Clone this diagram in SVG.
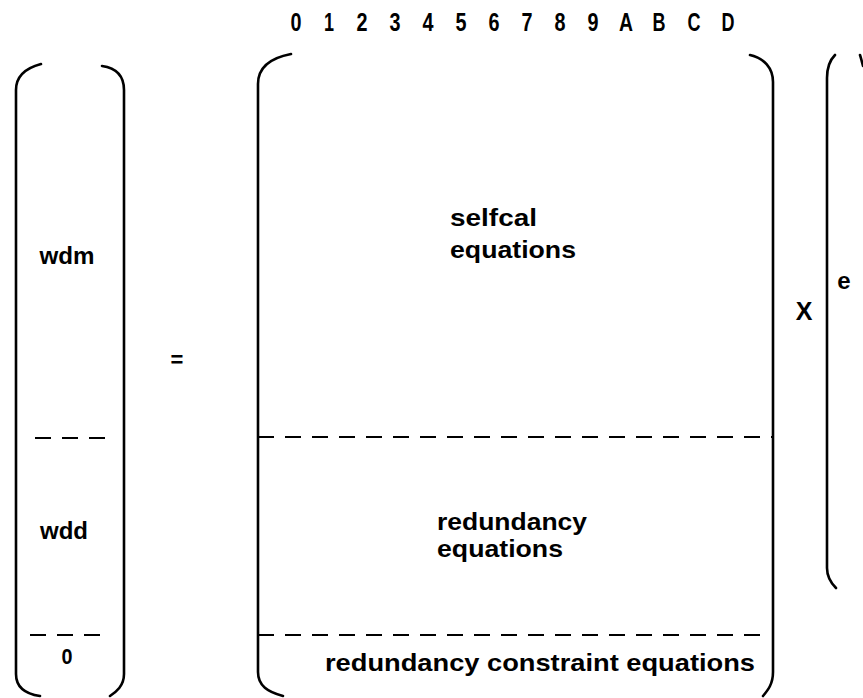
<svg xmlns="http://www.w3.org/2000/svg" width="863" height="698" viewBox="0 0 863 698">
<style>
.br{fill:none;stroke:#000;stroke-width:2.6;stroke-linecap:round}
.da{fill:none;stroke:#000;stroke-width:2;stroke-dasharray:16 11}
text{font-family:"Liberation Sans",Arial,sans-serif;font-weight:bold;fill:#000}
.t{font-size:24px}
.h{font-size:25px}
</style>
<rect width="863" height="698" fill="#fff"/>
<g id="header">
<text class="h" x="296" y="31" text-anchor="middle" textLength="11" lengthAdjust="spacingAndGlyphs">0</text>
<text class="h" x="329" y="31" text-anchor="middle" textLength="10" lengthAdjust="spacingAndGlyphs">1</text>
<text class="h" x="362" y="31" text-anchor="middle" textLength="11" lengthAdjust="spacingAndGlyphs">2</text>
<text class="h" x="395" y="31" text-anchor="middle" textLength="11" lengthAdjust="spacingAndGlyphs">3</text>
<text class="h" x="428" y="31" text-anchor="middle" textLength="11" lengthAdjust="spacingAndGlyphs">4</text>
<text class="h" x="461" y="31" text-anchor="middle" textLength="11" lengthAdjust="spacingAndGlyphs">5</text>
<text class="h" x="494" y="31" text-anchor="middle" textLength="11" lengthAdjust="spacingAndGlyphs">6</text>
<text class="h" x="527" y="31" text-anchor="middle" textLength="11" lengthAdjust="spacingAndGlyphs">7</text>
<text class="h" x="560" y="31" text-anchor="middle" textLength="11" lengthAdjust="spacingAndGlyphs">8</text>
<text class="h" x="593" y="31" text-anchor="middle" textLength="11" lengthAdjust="spacingAndGlyphs">9</text>
<text class="h" x="626" y="31" text-anchor="middle" textLength="14" lengthAdjust="spacingAndGlyphs">A</text>
<text class="h" x="659" y="31" text-anchor="middle" textLength="13" lengthAdjust="spacingAndGlyphs">B</text>
<text class="h" x="694" y="31" text-anchor="middle" textLength="13" lengthAdjust="spacingAndGlyphs">C</text>
<text class="h" x="728" y="31" text-anchor="middle" textLength="13" lengthAdjust="spacingAndGlyphs">D</text>
</g>
<g id="lhs-vector">
<path class="br" d="M41,64 C26,68 16,76 16,90 L16,674 C16,688 26,694 40,696"/>
<path class="br" d="M102,66 C116,68 124,76 124,90 L124,674 C124,686 116,692 110,696"/>
<line class="da" x1="35" y1="438" x2="106" y2="438"/>
<line class="da" x1="30" y1="635" x2="106" y2="635"/>
<text class="t" x="67" y="264" text-anchor="middle" textLength="55" lengthAdjust="spacingAndGlyphs">wdm</text>
<text class="t" x="64" y="539" text-anchor="middle" textLength="48" lengthAdjust="spacingAndGlyphs">wdd</text>
<text x="67" y="664" font-size="22" text-anchor="middle" textLength="11" lengthAdjust="spacingAndGlyphs">0</text>
</g>
<g id="equals">
<text x="177" y="367" font-size="22" text-anchor="middle">=</text>
</g>
<g id="matrix">
<path class="br" d="M291,54 C270,58 258,68 258,84 L258,672 C258,686 268,692 283,696"/>
<path class="br" d="M750,55 C764,58 773,68 773,82 L773,672 C773,684 768,690 763,696"/>
<line class="da" x1="258" y1="437" x2="772" y2="437"/>
<line class="da" x1="258" y1="635" x2="760" y2="635"/>
<text class="t" x="450" y="226" textLength="87" lengthAdjust="spacingAndGlyphs">selfcal</text>
<text class="t" x="450" y="258" textLength="126" lengthAdjust="spacingAndGlyphs">equations</text>
<text class="t" x="437" y="530" textLength="150" lengthAdjust="spacingAndGlyphs">redundancy</text>
<text class="t" x="437" y="557" textLength="126" lengthAdjust="spacingAndGlyphs">equations</text>
<text class="t" x="325" y="671" textLength="430" lengthAdjust="spacingAndGlyphs">redundancy constraint equations</text>
</g>
<g id="times">
<text x="804" y="320" font-size="25" text-anchor="middle">X</text>
</g>
<g id="rhs-vector">
<path class="br" d="M835,55 C830,60 827,66 827,78 L827,568 C827,578 832,584 836,588"/>
<path class="br" d="M860,55 C861,58 862,62 863,66"/>
<text x="844" y="289" font-size="24" text-anchor="middle">e</text>
</g>
</svg>
